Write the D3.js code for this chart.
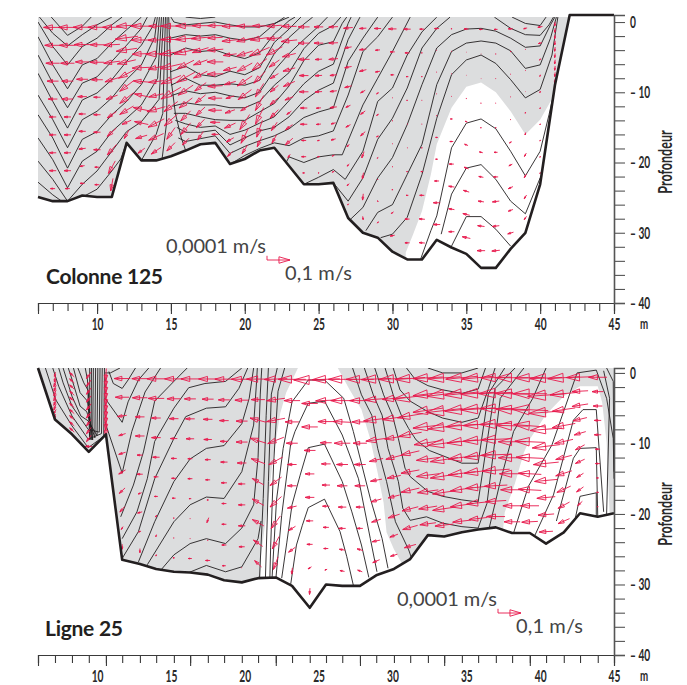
<!DOCTYPE html>
<html>
<head>
<meta charset="utf-8">
<script src="https://cdn.jsdelivr.net/npm/d3@7"></script>
<style>
  html, body { margin: 0; background: #fff; }
  .narrow { font-family: Lato, "Open Sans", sans-serif; font-weight: 700; fill: #2a2a2a; }
  .legend { font-family: Lato, "Open Sans", sans-serif; font-weight: 400; fill: #444; }
  .title { font-family: Lato, "Open Sans", sans-serif; font-weight: 700; fill: #231f20; }
</style>
</head>
<body>
<div id="chart"></div>
<script>
/* DATA */
// level of each arrow in a column, as a fraction of the local water depth
const sigmaLevels = [0.03, 0.13, 0.23, 0.33, 0.43, 0.53, 0.63, 0.73, 0.83, 0.93];

// Colonne 125: bottom profile
const topBottomX = [6,7,8,9,10,11,12,13,14,15,16,17,18,19,20,21,22,23,24,25,26,27,28,29,30,31,32,33,34,35,36,37,38,39,40,41,42,45];
const topBottomZ = [24.9,25.5,25.5,24.7,24.9,24.9,17.2,19.7,19.7,19.1,18.3,17.4,17.2,20.2,19.5,18.3,17.9,20.5,23.1,23.1,22.9,27.9,30,30.7,32.7,33.8,33.8,31,32.1,33,35,35,32.3,30,23.1,9,-1,-1];

// zone boundary: white area inside the grey water (x, depth)
const topWhite = [[30.9,32.8],[31.4,30.2],[32,26.9],[32.6,21.7],[33,17.4],[34,12.2],[35,9.2],[36,8.6],[37,10],[38,12.7],[39,16],[40,13.9],[40.7,11.3],[41.2,9],[41.2,38],[30.9,38]];

const topContours = [
  [[6.9,-.7],[8,1.9],[9,.6],[9.6,-.7]],
  [[6.1,-.7],[7,1.6],[8,3.4],[9,1.8],[10,.4],[11,-.7]],
  [[6,0],[7,3.5],[8,6.1],[9,3.5],[10,2.3],[11,.4],[11.7,-.7]],
  [[6,2.1],[7,6.1],[8,9.5],[9,6.1],[10,5.2],[11,3],[12,1.1],[13,-.7]],
  [[6,4.7],[7,8.7],[8,12.2],[9,8.7],[10,7.8],[11,5.6],[12,3.3],[13,.9],[13.4,-.7]],
  [[6,7.3],[7,11.3],[8,15.1],[9,11.1],[10,10.1],[11,8.2],[12,5.6],[13,3.3],[13.8,.5],[13.95,-.7]],
  [[6,10.4],[7,13.9],[8,17.9],[9,13.9],[10,12.7],[11,10.8],[12,8.2],[13,6.1],[13.9,2.2],[14.08,-.7]],
  [[6,13.2],[7,16.5],[8,20.8],[9,16.7],[10,15.6],[11,13.2],[12,11.3],[13,8.9],[14,5],[14.22,-.7]],
  [[6,16.5],[7,19.6],[8,23.6],[9,19.8],[10,18.4],[11,15.6],[12,13.7],[13,11.8],[14.1,8],[14.36,-.7]],
  [[6,19.8],[7,22.4],[8,25.5],[9,23.1],[10,21.2],[11,18.4],[12,15.6],[13,14.2],[14.2,11],[14.5,-.7]],
  [[6,22.8],[7,24.6],[7.6,25.5]],
  [[9.2,24.7],[10,23.8],[11,21.2],[11.6,19.5],[12,17.2]],
  [[13,19.7],[14,16],[14.45,13],[14.63,-.7]],
  [[14.4,19.5],[14.7,14.5],[14.75,8],[14.74,-.7]],
  [[14.85,-.7],[15,8],[15.3,13],[15.7,16.5],[16,18.3]],
  [[16,-.7],[17,-.5],[18,-.7]],
  [[15,-.7],[15.2,0],[16,.4],[17,.2],[18,0],[19,.4],[20,.7],[21,.7],[22,.2],[23,-.7]],
  [[14.95,2.3],[16,1.8],[17,2],[18,1.8],[19,2.3],[20,2.6],[21,2.1],[22,.3],[22.7,-.7]],
  [[14.95,4.7],[16,3.7],[17,4.2],[18,4],[19,4.7],[20,5.2],[21,4.4],[22,1.7],[23,-.2],[23.4,-.7]],
  [[14.95,7.1],[16,6.3],[17,7.5],[18,7.8],[19,7],[20,7.5],[21,6.5],[22,2.9],[23,1],[23.8,-.7]],
  [[15,9],[16,8],[17,9],[18,9],[19,8.8],[20,9],[21,8.3],[22,4.5],[23,2.2],[24,.3],[24.6,-.7]],
  [[15,10.5],[16,9.8],[17,10.2],[18,10],[19,10.5],[20,10.8],[21,10],[22,6.9],[23,4.5],[24,2.5],[25,.6],[25.6,-.7]],
  [[15.1,12],[16,11.5],[17,11.8],[18,11.8],[19,12.2],[20,12.2],[21,11.3],[22,9],[23,7.2],[24,3.8],[25,1.6],[26,.5],[26.5,-.7]],
  [[15.2,13],[16,13],[17,13.5],[18,13.9],[19,14],[20,14],[21,12.8],[22,11.6],[23,9.1],[24,5.5],[25,3.3],[26,2.8],[26.6,.2],[26.9,-.7]],
  [[15.3,14],[16,14.5],[17,15],[18,14.8],[19,16],[20,15.4],[21,14.4],[22,13.5],[23,11.2],[24,8.8],[25,7],[26,6],[27,.2],[27.2,-.7]],
  [[15.4,15],[16,15.7],[17,15.7],[18,15.4],[19,17.5],[20,16.5],[21,15.5],[22,15],[23,13.5],[24,11.2],[25,9.7],[26,8.7],[27,2.5],[27.8,-.7]],
  [[15.5,16.5],[16,17],[17,16.6],[18,16.2],[19,18.7],[20,17.7],[21,16.9],[22,16.2],[23,15.2],[24,13.6],[25,12.8],[26,12.2],[27,5.6],[28,2.3],[29,-.7]],
  [[19.2,20],[20,19],[21,18],[22,17.2],[23,17.6],[24,16.5],[25,16.2],[26,15.5],[27,10.4],[28,4.2],[29,2.1],[30,-.7]],
  [[22.8,20],[23,19.2],[24,20],[25,19.2],[26,18.9],[26.6,18.9],[28,11.8],[29,8],[30,4.2],[31.2,-.7]],
  [[24,23.1],[25,22.1],[26,21],[26.8,22.4],[28,18.4],[29,11.3],[30,9.4],[31,4.7],[32,1.4],[33,-.7]],
  [[26,22.9],[27,25.5],[28,22.2],[29,16.7],[30,13.7],[31,9.4],[32,3.7],[33,.9],[33.9,-.7]],
  [[27.2,28],[28,26.4],[29,22.2],[30,19.3],[31,14.6],[32,8.9],[33,3.7],[34,1.8],[35,1],[36,.9],[37,1.3],[38,2.3],[39,3.6],[40,3.4],[40.7,.4],[41,-.7]],
  [[28.2,29.7],[29,27.1],[30,26],[31,21.7],[32,17.4],[33,8.9],[34,4.2],[35,3],[36,2.7],[37,3],[38,4.1],[39,6.6],[40,6.1],[40.7,2.3],[41.1,-.7]],
  [[29.2,30.7],[30,30.2],[31,27.8],[32,21.7],[33,13.7],[34,7.5],[35,5.4],[36,4.7],[37,5.9],[38,8.2],[39,10.8],[40,9.6],[40.8,4.7],[41.2,-.7]],
  [[31.9,33.8],[32.6,29.7],[33,27.6],[34,17.9],[35,14.4],[36,13.8],[37,15.2],[38,18.4],[39,21.9],[40,18.4],[40.6,13.2],[40.9,10.4]],
  [[33.3,30.2],[34,24.5],[35,20.8],[36,20.3],[37,22.4],[38,25.5],[39,27.3],[40,22.2]],
  [[34,31.9],[35,27.7],[36,27.7],[37,29.5],[38,31.9]],
  [[36.9,-.7],[38,.9],[39,1.8],[40,1.9],[40.6,.4],[40.9,-.7]],
  [[38.1,-.7],[39,.2],[40,.5],[40.4,-.7]]
];

// columns that carry arrows, then u (cm/s, minus = towards the left) and w (0.1 mm/s, plus = down) per level
const topArrowX = [7,8,9,10,11,12,13,14,15,16,17,18,19,20,21,22,23,24,25,26,27,28,29,30,31,32,33,34,35,36,37,38,39,40,41];
const topU = [
  [-8,-7,-6,-5,-4,-3,-3,-3,-3,-2],
  [-8,-7,-6,-5,-5,-3,-3,-3,-3,-2],
  [-8,-7,-6,-5,-4,-3,-3,-3,-2,-2],
  [-8,-6,-6,-5,-3,-3,-3,-3,-2,-2],
  [-8,-7,-7,-6,-5,-4,-4,-4,-3,-1],
  [-9,-10,-9,-8,-7,-6,-6,-6,-4,-2],
  [-9,-9,-8,-8,-7,-6,-7,-6,-5,-3],
  [-6.5,-7,-9,-7,-6.5,-6.5,-8,-7,-6.5,-4.3],
  [-8.7,-9,-10,-9.5,-8.7,-8.7,-6,-5.8,-3.6,-3.6],
  [-8.7,-9.4,-10,-7.2,-8,-6.5,-5.8,-4.3,-4.3,-2.9],
  [-7,-8,-7,-6,-6,-5,-4.5,-4,-3.5,-2.5],
  [-6.5,-6.5,-7,-7,-7,-6.5,-6,-5.8,-4.3,-3],
  [-7,-7,-5.8,-5.8,-5,-3.6,-4.3,-4.8,-3.3,-2.2],
  [-7,-7,-7,-6.5,-6.5,-5.8,-3.5,-4.3,-3.2,-2.3],
  [-6,-8,-8.7,-6.5,-5,-3.6,-3.6,-3.6,-2.5,-2],
  [-6.5,-6.5,-7,-4.5,-3.6,-3.6,-3.6,-3.6,-2.5,-2],
  [-6.5,-7,-5.8,-5.3,-5,-3.6,-2,-3,-3.3,-1],
  [-5,-5,-5,-4,-4,-3,-3,-2,-2,-1],
  [-4,-4,-3,-3,-3,-2,-2,-1,-1,-.5],
  [-4,-4,-4,-3,-3,-3,-2,-2,-1,-1],
  [-4,-3,-3,-3,-2,-2,-1,-1,-1,-.5],
  [-3,-3,-3,-2,-2,-2,-1,-.5,-.3,.2],
  [-3,-2,-2,-1,-1,-1,-.5,-.2,.2,.7],
  [-3.5,-2,-1.5,-.2,-.3,-.2,-.3,-.5,-1,-2],
  [-3,-2,-1,-.5,-.2,-.2,-.5,-1,-2,-2],
  [-2,-.5,-.5,-.2,-.2,-.5,-1,-2,-2.5,-2.5],
  [-2,-.2,-.2,-.2,-.3,-1,-1,-2,-3,-3],
  [-.5,-.2,-.2,-.2,-1,-1.5,-2,-2.5,-2.5,-2.5],
  [-2,-.1,-.1,-.3,-1,-1.5,-2,-2.5,-3,-3.5],
  [-1.5,-.1,-.1,-.3,-.5,-1.5,-2,-2.5,-3,-3.5],
  [-1.5,-.3,-.2,-.2,-.5,-1.5,-2,-3,-3,-3.5],
  [-2,-.5,-.2,-.2,-.3,-1,-1.5,-2,-2,-2.5],
  [-1.5,-.2,-.2,-.1,-.1,-.3,-.8,-1,-1,-1],
  [-2,-1.5,-.5,-.3,-.3,-.2,-.2,-.2,-.2,-.2],
  [-.2,-.2,-.2,-.2,-.2,-.2,-.2,-.2,-.2,-.2]
];
const topW = [
  [0,0,0,0,0,0,0,0,0,0],
  [0,0,0,0,0,0,0,0,0,0],
  [0,0,0,0,0,0,0,.2,.2,0],
  [0,0,0,0,0,0,0,0,0,0],
  [0,.2,.5,1,1,1.5,2,2.5,3,3],
  [.3,.7,.7,1,2,2.5,2.5,2,1,2],
  [0,0,.2,.2,-.3,-.7,-.8,-.7,.8,1.2],
  [0,.1,.2,.8,.4,.8,1.2,2,1.6,1.6],
  [0,0,.8,1.2,2,2.8,2.4,2.8,2.8,2],
  [0,.4,1.2,2,2.4,2.4,2.4,2.4,2.8,1.6],
  [0,.4,1.2,1.2,1.6,2,2,2,2,2],
  [0,.2,.3,0,.1,.2,0,0,0,0],
  [0,.4,.4,.8,.8,.6,.8,1.2,1,1.2],
  [0,.8,1.2,2,2.4,2.4,1.2,3.6,3.6,2],
  [0,.6,2,2.8,2.8,3.2,3.6,4,4,2.5],
  [.3,.3,2,1.7,1.2,1.6,1.6,2,2,2],
  [0,.4,.8,.8,1.2,.8,.8,1.2,1.6,.8],
  [0,0,0,0,0,0,0,0,0,0],
  [0,0,.1,.1,.1,.1,.1,.1,.1,.1],
  [.1,.1,.2,.2,.2,.2,.3,.3,.3,.3],
  [.2,.3,.3,.4,.5,.6,.6,.5,.5,.3],
  [.1,.2,.4,.6,.8,1,1.5,1.5,1.5,.8],
  [0,.1,.2,.3,.3,.2,.2,.2,.3,-.3],
  [0,0,0,0,0,0,0,0,.4,.2],
  [0,0,0,0,0,0,0,0,0,0],
  [0,0,0,0,0,0,0,0,-.1,-.1],
  [0,0,0,0,0,0,0,0,0,0],
  [0,0,0,0,0,0,0,-.2,-.2,0],
  [0,0,0,0,-.2,-.3,-.4,-.4,-.4,-.4],
  [0,0,0,0,0,-.2,-.2,-.2,-.2,0],
  [0,0,0,0,0,0,0,.2,.2,.2],
  [0,0,0,0,0,.3,.4,.5,.4,.4],
  [.2,0,0,0,.3,.6,.8,.9,.9,.8],
  [.2,.2,.4,.4,.4,.3,.3,.3,.3,.3],
  [1,1,1,1,1,1,1,1,1,1]
];

// Ligne 25: bottom profile
const botBottomX = [6,7.15,8.3,9.44,10.6,11.7,12.9,14,15.2,16.3,17.5,18.6,19.8,20.9,22.1,23.2,24.4,25.5,26.6,27.8,28.9,30.1,31.2,32.4,33.5,34.7,35.8,37,38.1,39.3,40.4,41.6,42.7,43.9,45];
const botBottomZ = [-.7,6.6,8.7,11.2,8.7,26.5,27.1,27.8,28.2,28.3,28.6,29.4,29.7,29.1,29,30.2,33.3,30,30.2,30.2,28.7,27.8,26.4,23,23.2,22.6,22.2,21.9,22.7,22.7,24.2,22.6,19.9,20.4,19.9];

const botWhiteA = [[23.6,-.7],[22.8,2.8],[22.4,5.7],[21.9,12.3],[21.6,17.9],[21.1,25.9],[21,36],[30.6,36],[30.6,26.9],[30.1,25],[29.6,22.6],[29.4,18.4],[29,14.2],[28.5,9.4],[27.9,5.2],[27.1,2.4],[26.3,-.7]];
const botWhiteB = [[37.5,26],[37.5,22],[37.6,19.8],[38.3,15.6],[38.9,11.3],[39.3,9.4],[40.4,5.9],[41.6,3.3],[42.7,1.9],[43.9,1.9],[44.2,4.2],[44.5,9.9],[44.7,19.8],[44.7,26]];

const botContours = [
  [[6.5,-.7],[7.2,3.8],[8.3,7.5],[9.4,10.6],[10.45,9],[10.5,-.7]],
  [[7,-.7],[7.4,1.9],[8.3,6.1],[9.4,9.4],[10.3,8.6],[10.35,-.7]],
  [[7.4,-.7],[7.7,1.4],[8.3,4.7],[9.4,8],[10.15,8.4],[10.2,-.7]],
  [[7.7,-.7],[8.3,3.3],[8.9,6.1],[9.4,6.8],[10,8.9],[10.05,-.7]],
  [[8.05,-.7],[8.3,.9],[8.85,4.7],[9.3,5.5],[9.85,9.2],[9.9,-.7]],
  [[8.4,-.7],[8.85,2.8],[9.35,4],[9.7,9.5],[9.75,-.7]],
  [[8.7,-.7],[9.1,1.4],[9.4,2.5],[9.6,9.5],[9.62,-.7]],
  [[9.2,-.7],[9.35,1],[9.5,9.5],[9.5,-.7]],
  [[10.54,0],[10.9,0],[11.55,-.7]],
  [[10.8,-.2],[11.1,1.5],[11.7,2.2],[12.1,1],[12.6,-.7]],
  [[10.54,3.6],[11.7,7],[12.1,4.1],[12.8,1],[13.5,-.7]],
  [[10.54,7],[11.7,14.2],[12.35,8.3],[13.25,2.7],[14.3,-.7]],
  [[11.6,20.4],[12.46,15.9],[13.14,11.2],[13.9,4],[15.2,1.2],[16.1,-.7]],
  [[11.7,23.5],[12.7,19.7],[13.4,15],[13.9,9.7],[15.2,5],[16.2,2.1],[17.3,1.5],[18.7,1.2],[19.8,-.7]],
  [[11.7,26.3],[12.8,22.5],[13.9,15],[15.2,9.3],[16,6.2],[17.4,5],[18.7,4.8],[19.6,2.2],[20.2,-.7]],
  [[12.8,26.8],[13.9,21.1],[15.2,15.4],[16.3,12.2],[17.4,10.7],[18.6,10.3],[19.8,7.2],[20.3,3.6],[20.6,-.7]],
  [[13.4,27.2],[15.2,21.1],[16.3,18.7],[17.4,17.6],[18.6,17.8],[19.8,14],[20.6,7.4],[20.8,1.2],[20.85,-.7]],
  [[14.3,28],[15.2,25.8],[16.3,24.2],[17.4,23.5],[18.7,24.2],[19.8,22],[20.6,18.7],[20.9,12],[21.05,3],[21.15,-.7]],
  [[16.1,28.4],[17.4,27.3],[18.7,28.2],[19.8,27.5],[20.9,23.5],[21.1,21]],
  [[21,29],[21.25,17.8],[21.45,6],[21.6,-.7]],
  [[21.4,29],[21.6,15.4],[21.8,3],[22.2,-.7]],
  [[21.7,29],[21.75,24.8],[21.95,13],[22.25,2.6],[22.7,-.7]],
  // arcs in the white zone
  [[21.85,29],[22.15,18],[22.6,10.7],[23.2,4.1],[24.3,1],[25.4,1],[26.7,3.6],[27.35,8.3],[28.5,17.8],[29.3,23.5],[29.7,27.7]],
  [[22.1,29.3],[22.5,20.2],[23.1,10.2],[23.4,8.3],[24.3,4.3],[25.4,4],[26.6,8.8],[27.7,15],[28.5,23.5],[28.95,28.2]],
  [[22.5,29.1],[22.85,24],[23.2,18.7],[23.75,14.5],[24.3,10.6],[25.4,10.1],[26.6,15.4],[27.25,19.7],[27.9,24.4],[28.4,29]],
  [[23.1,30.1],[23.5,24.4],[23.9,21.6],[24.3,19.1],[25.4,17.9],[26.45,22.5],[26.9,26],[27.35,30.1]],
  [[27.3,-.7],[27.9,3.1],[28.6,6],[29,10.7],[29.6,15.4],[30.2,21.1],[31.1,25.1],[31.3,26.3]],
  [[28.1,-.7],[28.7,3.1],[29.3,6],[29.7,10.7],[30.4,15.4],[30.7,19.2],[31.2,20.9],[32.3,20.4],[33.4,21.3],[34.7,21.8],[35.8,22],[36.4,18.5],[37.3,3.6],[38.9,-.7]],
  [[28.8,-.7],[29.4,3.1],[30,6],[30.4,9.3],[30.85,13.5],[31.2,14.7],[32.4,16.8],[33.4,17.5],[34.7,18],[35.8,18.3],[36.95,2.2],[38.3,-.7]],
  [[29.5,-.7],[30.05,3.1],[30.6,6],[31.1,7.9],[31.6,9.5],[32.5,11],[34.7,12.8],[35.8,12.8],[36.5,2.9],[37.6,-.7]],
  [[30.05,-.7],[30.51,2.4],[31.2,4],[32.4,5.5],[33.4,6.4],[34.7,7],[35.8,6.4],[36.5,2.2],[36.95,-.7]],
  [[30.95,-.7],[31.5,.8],[32.4,1.8],[33.4,2.4],[34.7,2.9],[35.8,2.3],[36.3,-.7]],
  [[32.4,-.7],[33.4,0],[34.7,0],[35.8,-.7]],
  [[36.55,22],[37.3,15.4],[38.2,8.3],[39.5,3.6],[40.4,-.7]],
  [[38.2,22.7],[39.2,16.1],[40.8,10.2],[42.5,0],[43.8,-.4],[44.5,3.6],[44.95,9.3],[45,15]],
  [[39.65,23],[40.9,17.3],[42.25,6.7],[42.9,5.2],[43.8,5.2],[44.3,19.7]],
  [[41.1,21],[42.25,12.1],[42.7,10.7],[43.8,10.6],[43.9,20.4]],
  [[42.35,20.9],[42.7,17.5],[43.8,17],[43.8,20.4]],
  [[44.5,-.7],[44.95,1.2],[45,14]],
  [[44.3,-.3],[44.7,3.6],[44.5,20]]
];

const botArrowX = botBottomX.slice(1, 34);
const botU = [
  [-.5,-.5,-1,-1,-1,-1,-1,-1,-1,-.5],
  [-2,-2,-2,-2,-2,-2,-2,-2,-2,-2],
  [-2,-2,-2,-2,-2,-2,-2,-2,-2,-3],
  [-.3,-.3,-.3,-.3,-.3,-.3,-.3,-.3,-.3,-.3],
  [-7,-6,-4,-3,-3,-3,-2.5,-2,-.8,0],
  [-7,-6.5,-4,-4,-2.5,-2.5,-1.5,-2,-1,0],
  [-8,-7,-4,-4,-3,-2,-1.5,-.5,-.3,-.2],
  [-8,-6,-4,-3,-2.5,-2,-1.5,-.5,-.3,-.8],
  [-8,-5,-4,-3.5,-2,-2,-1,-.2,-.2,-1.5],
  [-8,-5,-4,-3.5,-2.5,-2,-.8,-.8,-.3,-2],
  [-8,-5,-4,-3.5,-3,-2.5,-2,-2,-2,-1.5],
  [-9,-6,-5,-5,-4,-3,-3,-3,-2.5,-.2],
  [-10,-6,-7,-7,-6,-5,-5,-5,-4,-3],
  [-10,-8,-8,-7,-6,-5,-5,-4,-3,-2],
  [-12,-7,-6,-5,-4,-4,-4,-3,-3,-.3],
  [-14,-7,-7,-5,-4,-4,-3,-2.5,-1.5,-.2],
  [-12,-9,-7,-5,-4,-3.5,-3,-2.5,-2,-1],
  [-12,-10,-8,-7,-5,-4.5,-3.5,-3,-2.5,-2],
  [-12,-9,-7,-6,-5,-4.5,-3.5,-2.5,-2.5,-2],
  [-13,-10,-11,-9,-6,-5,-4.5,-4,-3.5,-3],
  [-13,-10,-10,-8,-7,-6,-5,-5,-3.5,-3],
  [-13,-15,-11,-10,-8,-8,-8,-7,-6.5,-5],
  [-13,-13,-13,-13,-12,-10,-10,-9,-8,-7],
  [-14,-15,-16,-14,-14,-12,-12,-10,-10,-8],
  [-14,-15,-15,-14,-13,-12,-12,-10,-10,-8],
  [-14,-15,-15,-13,-13,-12,-12,-11,-10,-8],
  [-13,-15,-14,-14,-13,-13,-12,-10,-9,-8],
  [-14,-15,-14,-14,-12,-12,-11,-10,-8,-7],
  [-13,-15,-16,-14,-13,-12,-10,-10,-8,-7],
  [-14,-16,-15,-14,-12,-11,-10,-8,-7,-6],
  [-14,-12,-10,-10,-8,-7,-7,-6,-5,-5],
  [-12,-7,-7,-6,-5,-4,-4,-3,-3,-2],
  [-8,-5,-4,-3,-3,-2,-2,-1,-1,-.5]
];
const botW = [
  [1,1.5,1.5,1.5,1.5,1.5,1.5,1.5,1,1],
  [-1,-1,-1,-1,-1,-1,-1,-1,-1,-1],
  [1.5,1.5,1.5,1.5,1.5,1.5,1.5,1.5,1.5,0],
  [3,3,3,3,3,3,3,3,3,3],
  [0,0,.3,.5,.5,1,1.3,1.3,.7,1.2],
  [0,0,0,0,0,0,.3,.3,.2,1],
  [0,0,0,0,0,0,0,.5,.5,.4],
  [0,0,0,0,0,0,0,0,0,0],
  [0,0,0,0,0,0,0,0,0,0],
  [0,0,0,0,0,0,0,1.2,0,0],
  [0,0,0,0,0,0,0,0,0,0],
  [0,0,0,0,0,0,0,0,0,0],
  [0,0,-1,-1.2,-1.2,-1.5,-1.5,-1.5,-1.5,-1.5],
  [.2,.6,.8,1.5,1.8,2,2.5,3,3,3],
  [0,0,0,0,0,0,.5,1,1.2,1.5],
  [0,0,0,0,0,0,0,0,.5,1.5],
  [.2,.2,0,0,0,0,0,0,0,.2],
  [0,0,-.2,0,0,0,0,0,-.2,-.2],
  [0,0,0,0,0,0,0,0,-.4,-.4],
  [.3,.4,.7,.7,.7,.5,.7,.7,.4,.7],
  [.3,.5,.8,.7,1,.7,.7,.9,.7,.5],
  [.5,1,1,1,1,.8,1,1,1,.8],
  [.4,.8,1,.8,1,.7,.7,.7,.7,.5],
  [.5,1,1,1,1,1,1,.8,.8,.5],
  [.7,.8,.8,.6,.8,.8,.8,.8,.8,.5],
  [.7,.5,.5,.5,.5,.8,.8,.6,.6,.5],
  [.2,.3,0,.3,.3,.3,.5,.3,.3,0],
  [0,-.2,-.3,-.2,0,0,0,0,0,0],
  [.2,0,-.4,-.6,-.3,-.3,-.3,-.3,0,.2],
  [.3,.6,.6,.6,.8,.6,.5,.4,.3,.2],
  [.5,.6,.8,1,1,1,1.2,1.5,1.5,1.2],
  [.2,.2,.6,.8,.8,1.2,1,1,1.2,1],
  [0,0,0,0,0,0,0,0,0,0]
];

// axis ticks
const topMinorTicks = d3.range(6, 46);
const topMajorTicks = [10, 15, 20, 25, 30, 35, 40, 45];
const botMajorTicks = [10.6, 16.3, 22.1, 27.8, 33.5, 39.3, 45];
const xLabels = [10, 15, 20, 25, 30, 35, 40, 45];
const depthTicks = d3.range(0, 41, 2);

/* CONSTANTS AND GLOBALS */
const width = 687, height = 685;
const grey = "#dcddde", ink = "#231f20", red = "#e8174b";

const svg = d3.select("#chart").append("svg")
  .attr("width", width)
  .attr("height", height);

const xScale = d3.scaleLinear().domain([6, 45]).range([38, 614]);
// arrow sizes: 0.1 m/s and 0.0001 m/s as in the legend key
const uScale = d3.scaleLinear().domain([0, 10]).range([0, 23]);
const wScale = d3.scaleLinear().domain([0, 1]).range([0, 4.2]);

// the original labels are set in a condensed face, none is installed: squeeze the glyphs
function squeeze(sel, k) {
  sel.each(function () {
    const len = this.getComputedTextLength();
    if (len > 0) d3.select(this).attr("textLength", len * k).attr("lengthAdjust", "spacingAndGlyphs");
  });
}

/* DRAW A PANEL */
function drawPanel(p) {
  const yScale = d3.scaleLinear().domain([p.top, 40]).range([p.yTop, p.yBottom]);
  const g = svg.append("g");
  const line = d3.line().x(d => xScale(d[0])).y(d => yScale(d[1]));

  const bottom = p.bottomX.map((x, i) => [x, p.bottomZ[i]]);
  const water = bottom.filter(d => d[0] <= p.waterEnd);
  const waterPath = line([[6, -.7], [p.waterEnd, -.7]].concat(water.slice().reverse())) + "Z";

  const clipId = "clip" + p.name.replace(" ", "");
  g.append("clipPath").attr("id", clipId)
    .append("path")
    .attr("d", waterPath);

  // grey water
  g.append("path")
    .attr("d", waterPath)
    .attr("fill", grey);

  // white zones
  g.selectAll("path.white")
    .data(p.white)
    .join("path")
    .attr("class", "white")
    .attr("d", d => line(d) + "Z")
    .attr("clip-path", `url(#${clipId})`)
    .attr("fill", "#fff");

  // contours
  g.append("g")
    .attr("clip-path", `url(#${clipId})`)
    .selectAll("path")
    .data(p.contours)
    .join("path")
    .attr("d", line)
    .attr("fill", "none")
    .attr("stroke", ink)
    .attr("stroke-width", 0.9);

  // arrows
  const arrows = [];
  p.arrowX.forEach((x, c) => {
    const H = d3.pairs(p.bottomX).map(([a, b], i) => ({ a, b, i }))
      .filter(s => x >= s.a && x <= s.b)
      .map(s => p.bottomZ[s.i] + (p.bottomZ[s.i + 1] - p.bottomZ[s.i]) * (x - s.a) / (s.b - s.a))[0];
    sigmaLevels.forEach((s, l) => arrows.push({ x, z: H * s, u: p.u[c][l], w: p.w[c][l] }));
  });
  g.append("g")
    .selectAll("path")
    .data(arrows)
    .join("path")
    .attr("d", d => arrowPath(xScale(d.x), yScale(d.z), uPx(d.u), wPx(d.w)))
    .attr("fill", "none")
    .attr("stroke", red)
    .attr("stroke-width", 0.9);

  // bottom profile
  g.append("path")
    .attr("d", line(bottom))
    .attr("fill", "none")
    .attr("stroke", ink)
    .attr("stroke-width", 2.6)
    .attr("stroke-linejoin", "round");

  // axes
  const minorAxis = d3.axisBottom(xScale).tickValues(p.minorTicks).tickSize(8).tickFormat("");
  const majorAxis = d3.axisBottom(xScale).tickValues(p.majorTicks).tickSize(11).tickFormat("");
  const labelAxis = d3.axisBottom(xScale).tickValues(xLabels).tickSize(0).tickPadding(15);
  const rightAxis = d3.axisRight(yScale).tickValues(depthTicks).tickSize(11)
    .tickPadding(5)
    .tickFormat(d => d % 10 === 0 ? (d === 0 ? "0" : "\u2013 " + d) : "");

  [minorAxis, majorAxis, labelAxis].forEach(a => {
    const ax = g.append("g")
      .attr("transform", `translate(0, ${p.yBottom})`)
      .call(a);
    ax.selectAll("path,line").attr("stroke", "#3a3a3a").attr("stroke-width", 1.1);
    ax.selectAll("text").attr("class", "narrow").attr("font-size", 17).call(squeeze, 0.6);
  });

  const ay = g.append("g")
    .attr("transform", `translate(${xScale(45)}, 0)`)
    .call(rightAxis);
  ay.selectAll("path,line").attr("stroke", "#555").attr("stroke-width", 1.1);
  ay.select("path").attr("stroke-width", 1.6);
  ay.selectAll("text").attr("class", "narrow").attr("font-size", 17).attr("text-anchor", "start").call(squeeze, 0.6);

  g.append("text").attr("class", "narrow")
    .attr("x", 640).attr("y", p.yBottom + 26)
    .attr("font-size", 15)
    .text("m")
    .call(squeeze, 0.65);

  g.append("text").attr("class", "narrow")
    .attr("transform", `translate(672, ${p.profY}) rotate(-90)`)
    .attr("text-anchor", "middle")
    .attr("font-size", 19)
    .text("Profondeur")
    .call(squeeze, 0.66);

  g.append("text").attr("class", "title")
    .attr("x", p.titleX).attr("y", p.titleY)
    .attr("font-size", 21)
    .attr("textLength", p.titleLen)
    .text(p.name);

  // key
  g.append("text").attr("class", "legend")
    .attr("x", p.keyX - 101).attr("y", p.keyY - 7)
    .attr("font-size", 20)
    .attr("textLength", 100)
    .text("0,0001 m/s");
  g.append("text").attr("class", "legend")
    .attr("x", p.keyX + 18).attr("y", p.keyY + 20)
    .attr("font-size", 20)
    .attr("textLength", 67)
    .text("0,1 m/s");
  g.append("path")
    .attr("d", `M${p.keyX},${p.keyY + wPx(-1)}V${p.keyY}` + arrowPath(p.keyX + uPx(5), p.keyY, uPx(10), 0))
    .attr("fill", "none")
    .attr("stroke", red)
    .attr("stroke-width", 0.9);
}

function uPx(u) { return u < 0 ? -uScale(-u) : uScale(u); }
function wPx(w) { return w < 0 ? -wScale(-w) : wScale(w); }

// arrow centred on its grid point, open triangular head at the tip
function arrowPath(cx, cy, dx, dy) {
  const tipX = cx + dx / 2, tipY = cy + dy / 2;
  const tailX = cx - dx / 2, tailY = cy - dy / 2;
  const baseX = tipX - dx * 0.48, baseY = tipY - dy * 0.48;
  const nx = -dy * 0.14, ny = dx * 0.14;
  return `M${tailX},${tailY}L${tipX},${tipY}` +
    `L${baseX + nx},${baseY + ny}L${baseX - nx},${baseY - ny}L${tipX},${tipY}`;
}

drawPanel({
  name: "Colonne 125", top: -1, yTop: 15, yBottom: 303,
  bottomX: topBottomX, bottomZ: topBottomZ, waterEnd: 42,
  white: [topWhite], contours: topContours,
  arrowX: topArrowX, u: topU, w: topW,
  minorTicks: topMinorTicks, majorTicks: topMajorTicks,
  titleX: 46, titleY: 284, titleLen: 117, keyX: 267, keyY: 260, profY: 162
});
drawPanel({
  name: "Ligne 25", top: -.7, yTop: 368, yBottom: 655,
  bottomX: botBottomX, bottomZ: botBottomZ, waterEnd: 45,
  white: [botWhiteA, botWhiteB], contours: botContours,
  arrowX: botArrowX, u: botU, w: botW,
  minorTicks: botBottomX, majorTicks: botMajorTicks,
  titleX: 45, titleY: 636, titleLen: 78, keyX: 498, keyY: 613, profY: 514
});
</script>
</body>
</html>
